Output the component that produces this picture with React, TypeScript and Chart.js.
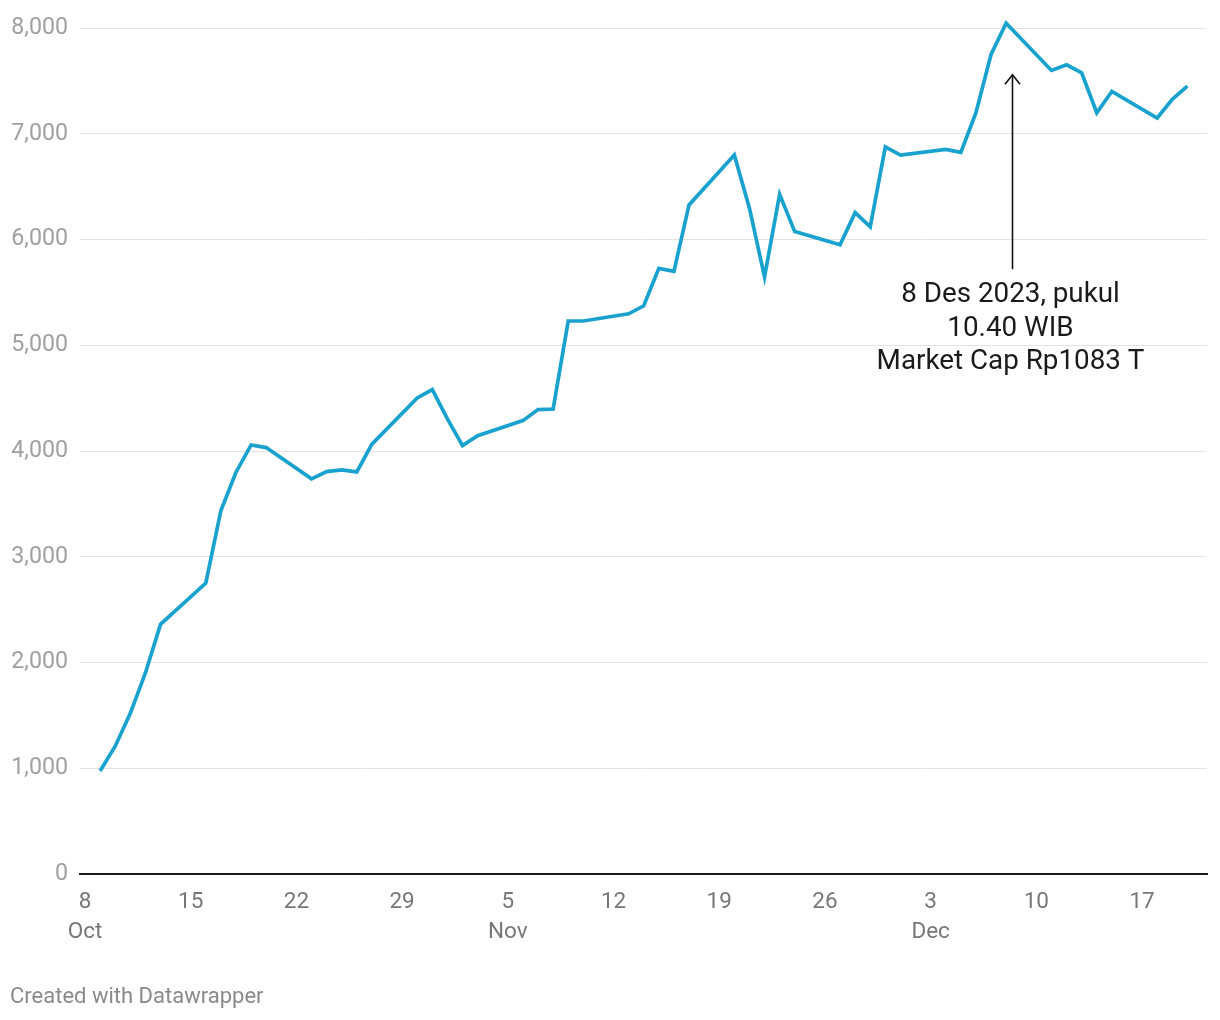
import React, { useEffect, useRef } from "react";
import { Chart, registerables } from "chart.js";

Chart.register(...registerables);

const dates: string[] = [
  "2023-10-09", "2023-10-10", "2023-10-11", "2023-10-12", "2023-10-13",
  "2023-10-16", "2023-10-17", "2023-10-18", "2023-10-19", "2023-10-20",
  "2023-10-23", "2023-10-24", "2023-10-25", "2023-10-26", "2023-10-27",
  "2023-10-30", "2023-10-31", "2023-11-01", "2023-11-02", "2023-11-03",
  "2023-11-06", "2023-11-07", "2023-11-08", "2023-11-09", "2023-11-10",
  "2023-11-13", "2023-11-14", "2023-11-15", "2023-11-16", "2023-11-17",
  "2023-11-20", "2023-11-21", "2023-11-22", "2023-11-23", "2023-11-24",
  "2023-11-27", "2023-11-28", "2023-11-29", "2023-11-30", "2023-12-01",
  "2023-12-04", "2023-12-05", "2023-12-06", "2023-12-07", "2023-12-08",
  "2023-12-11", "2023-12-12", "2023-12-13", "2023-12-14", "2023-12-15",
  "2023-12-18", "2023-12-19", "2023-12-20",
];

const values: number[] = [
  975, 1209, 1520, 1901, 2361,
  2751, 3438, 3800, 4058, 4033,
  3737, 3806, 3822, 3803, 4066,
  4502, 4581, 4304, 4052, 4146,
  4288, 4392, 4398, 5230, 5230,
  5298, 5374, 5728, 5700, 6328,
  6800, 6297, 5648, 6429, 6076,
  5950, 6255, 6120, 6877, 6800,
  6854, 6825, 7200, 7751, 8047,
  7600, 7653, 7578, 7200, 7402,
  7150, 7326, 7451,
];

const yTicks: number[] = [0, 1000, 2000, 3000, 4000, 5000, 6000, 7000, 8000];
const xTickDays: number[] = [0, 7, 14, 21, 28, 35, 42, 49, 56, 63, 70];
const xTickLabels: string[][] = [
  ["8", "Oct"], ["15"], ["22"], ["29"], ["5", "Nov"], ["12"], ["19"], ["26"],
  ["3", "Dec"], ["10"], ["17"],
];

const annotationLines: string[] = ["8 Des 2023, pukul", "10.40 WIB", "Market Cap Rp1083 T"];
const annotationDay = 61.4;
const annotationTop = 7560;
const annotationBottom = 5720;
const footerText = "Created with Datawrapper";

const baseDate = Date.UTC(2023, 9, 8);
const dayOf = (s: string) => {
  const [y, m, d] = s.split("-").map(Number);
  return (Date.UTC(y, m - 1, d) - baseDate) / 86400000;
};

const FONT = "Roboto, 'Noto Sans', sans-serif";

export default function App() {
  const ref = useRef<HTMLCanvasElement | null>(null);

  useEffect(() => {
    document.body.style.margin = "0";
    const canvas = ref.current;
    if (!canvas) return;

    const extras = {
      id: "extras",
      afterDraw(chart: any) {
        const ctx = chart.ctx;
        const xs = chart.scales.x;
        const ys = chart.scales.y;
        const ax = Math.round(xs.getPixelForValue(annotationDay)) + 0.5;
        const top = ys.getPixelForValue(annotationTop);
        const bot = ys.getPixelForValue(annotationBottom);
        ctx.save();
        ctx.strokeStyle = "#111";
        ctx.lineWidth = 1.6;
        ctx.beginPath();
        ctx.moveTo(ax, bot);
        ctx.lineTo(ax, top);
        ctx.stroke();
        ctx.beginPath();
        ctx.moveTo(ax - 7.5, top + 9.5);
        ctx.lineTo(ax, top);
        ctx.lineTo(ax + 7.5, top + 9.5);
        ctx.stroke();
        ctx.fillStyle = "#1a1a1a";
        ctx.font = `27.8px ${FONT}`;
        ctx.textAlign = "center";
        ctx.textBaseline = "middle";
        annotationLines.forEach((t, i) => {
          ctx.fillText(t, ax - 2, bot + 26 + i * 33.5);
        });
        ctx.fillStyle = "#8a8a8a";
        ctx.font = `22px ${FONT}`;
        ctx.textAlign = "left";
        ctx.fillText(footerText, 10, 997);
        ctx.restore();
      },
    };

    const chart = new Chart(canvas, {
      type: "line",
      data: {
        datasets: [
          {
            data: dates.map((d, i) => ({ x: dayOf(d), y: values[i] })),
            borderColor: "#1aa2cf",
            borderWidth: 3.7,
            pointRadius: 0,
            tension: 0,
            fill: false,
            borderJoinStyle: "miter",
          },
        ],
      },
      options: {
        animation: false,
        responsive: false,
        devicePixelRatio: 1,
        layout: { padding: { top: 7, right: 13, left: 0, bottom: 0 } },
        plugins: { legend: { display: false }, tooltip: { enabled: false } },
        scales: {
          x: {
            type: "linear",
            min: -0.331,
            max: 74.3,
            afterBuildTicks: (scale: any) => {
              scale.ticks = xTickDays.map((v) => ({ value: v }));
            },
            afterFit: (scale: any) => {
              scale.height = 146;
              scale.paddingLeft = 0;
              scale.paddingRight = 0;
            },
            grid: { display: false, drawTicks: false },
            border: { display: true, color: "#1a1a1a", width: 2 },
            ticks: {
              autoSkip: false,
              maxRotation: 0,
              padding: 13,
              color: "#777",
              font: { family: FONT, size: 22.5, lineHeight: 1.333 },
              callback: (v: any) => {
                const i = xTickDays.indexOf(Number(v));
                return i >= 0 ? xTickLabels[i] : "";
              },
            },
          },
          y: {
            min: 0,
            max: 8200,
            afterBuildTicks: (scale: any) => {
              scale.ticks = yTicks.map((v) => ({ value: v }));
            },
            afterFit: (scale: any) => {
              scale.width = 80;
              scale.paddingTop = 0;
              scale.paddingBottom = 0;
            },
            grid: {
              drawTicks: false,
              color: (c: any) => (c.tick && c.tick.value === 0 ? "rgba(0,0,0,0)" : "#e3e3e3"),
              lineWidth: 1,
            },
            border: { display: false },
            ticks: {
              padding: 12,
              color: "#a0a0a0",
              font: { family: FONT, size: 23.2 },
              callback: (v: any) => Number(v).toLocaleString("en-US"),
            },
          },
        },
      },
      plugins: [extras],
    });

    return () => chart.destroy();
  }, []);

  return (
    <div style={{ width: 1220, height: 1020 }}>
      <canvas ref={ref} width={1220} height={1020} style={{ display: "block" }} />
    </div>
  );
}
